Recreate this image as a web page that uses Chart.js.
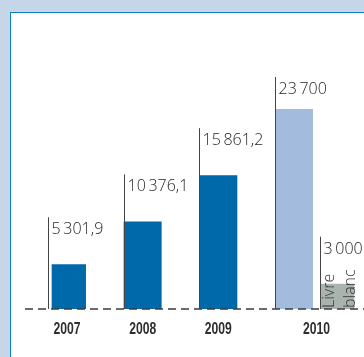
<!DOCTYPE html>
<html><head><meta charset="utf-8">
<script src="https://cdn.jsdelivr.net/npm/chart.js@4"></script>
<style>
html,body{margin:0;padding:0;width:364px;height:357px;overflow:hidden;background:#C6D6E9;}
#panel{position:absolute;left:10px;top:12px;right:0;bottom:0;background:#fff;border-left:1.5px solid #0A7DC4;border-top:1.5px solid #0A7DC4;}
#c{position:absolute;left:0;top:0;}
</style></head><body>
<div id="panel"></div>
<canvas id="c" width="364" height="357"></canvas>
<script>
// ---- data ----
const years = ['2007', '2008', '2009', '2010'];
const budget = [5301.9, 10376.1, 15861.2, 23700];
const livreBlanc = [null, null, null, 3000];
const seriesNames = ['Budget', 'Livre blanc'];

function fmt(v) {
  const parts = String(v).split('.');
  const int = parts[0].replace(/\B(?=(\d{3})+(?!\d))/g, '\u2009');
  return parts[1] ? int + ',' + parts[1] : int;
}

const annot = {
  id: 'annot',
  afterDatasetsDraw(chart) {
    const ctx = chart.ctx, ca = chart.chartArea;
    const y0 = chart.scales.y.getPixelForValue(0);
    ctx.save();
    // dashed baseline
    ctx.strokeStyle = '#3c3c3c'; ctx.lineWidth = 1.5; ctx.setLineDash([8, 5]);
    ctx.beginPath(); ctx.moveTo(25, y0); ctx.lineTo(chart.width, y0); ctx.stroke();
    ctx.setLineDash([]);
    // leader lines and value labels
    const groups = years.map(() => ({ l: Infinity, r: -Infinity }));
    chart.data.datasets.forEach((ds, di) => {
      const meta = chart.getDatasetMeta(di);
      meta.data.forEach((bar, i) => {
        const v = ds.data[i];
        if (v == null) return;
        const bl = bar.x - bar.width / 2, br = bar.x + bar.width / 2;
        groups[i].l = Math.min(groups[i].l, bl);
        groups[i].r = Math.max(groups[i].r, br);
        const lx = Math.round(bl) + 0.5;
        const top = Math.max(bar.y - 47, ca.top);
        ctx.strokeStyle = '#444'; ctx.lineWidth = 1;
        ctx.beginPath(); ctx.moveTo(lx, y0); ctx.lineTo(lx, top); ctx.stroke();
        ctx.fillStyle = '#1e1e1e'; ctx.font = '300 16px "Open Sans"';
        ctx.textAlign = 'left'; ctx.textBaseline = 'alphabetic';
        ctx.fillText(fmt(v), lx + 3, top + 17);
        if (di === 1) {
          const words = ds.label.split(' ');
          ctx.fillStyle = '#333';
          words.forEach((w, k) => {
            ctx.save();
            ctx.translate(bl + 14 + k * 21, y0 - 1);
            ctx.rotate(-Math.PI / 2);
            ctx.fillText(w, 0, 0);
            ctx.restore();
          });
        }
      });
    });
    // year labels (condensed bold)
    ctx.fillStyle = '#2e2e2e';
    ctx.font = 'bold 16px "Liberation Sans", Arial, sans-serif';
    ctx.textAlign = 'center';
    const sx = 0.76;
    years.forEach((y, i) => {
      ctx.save();
      ctx.translate((groups[i].l + groups[i].r) / 2, y0 + 25);
      ctx.scale(sx, 1);
      ctx.fillText(y, 0, 0);
      ctx.restore();
    });
    ctx.restore();
  }
};

new Chart(document.getElementById('c'), {
  type: 'bar',
  data: {
    labels: years,
    datasets: [
      {
        label: seriesNames[0], data: budget,
        backgroundColor: ctx => ctx.dataIndex === years.length - 1 ? '#A3BCDD' : '#0069AA'
      },
      { label: seriesNames[1], data: livreBlanc, backgroundColor: '#AAB4AE' }
    ]
  },
  options: {
    responsive: false, animation: false,
    devicePixelRatio: 1,
    categoryPercentage: 1.19, barPercentage: 0.844,
    layout: { padding: { left: 51.67, right: 9.67, top: 77, bottom: 48 } },
    plugins: { legend: { display: false }, tooltip: { enabled: false } },
    scales: {
      x: { display: false, offset: true },
      y: { display: false, min: 0, max: 27500 }
    }
  },
  plugins: [annot]
});
</script>
</body></html>
